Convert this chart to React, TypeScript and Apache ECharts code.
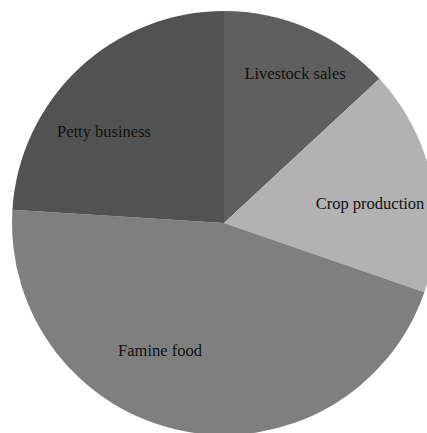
import React, { useEffect, useRef } from "react";
import * as echarts from "echarts";

const categories = ["Livestock sales", "Crop production", "Famine food", "Petty business"];
const values = [13.1, 17.2, 45.7, 24.0];
const colors = ["#5f5f5f", "#b2b2b2", "#7f7f7f", "#525252"];
// label anchor offsets from the pie centre (px)
const labelOffsets: [number, number][] = [
  [71, -150],
  [146, -20],
  [-64, 127],
  [-120, -92],
];

const CX = 224;
const CY = 223;
const R = 212;

export default function App() {
  const ref = useRef<HTMLDivElement>(null);
  useEffect(() => {
    if (!ref.current) return;
    const chart = echarts.init(ref.current, undefined, { renderer: "svg" });
    chart.setOption({
      animation: false,
      backgroundColor: "#ffffff",
      series: [
        {
          type: "pie",
          center: [CX, CY],
          radius: [0, R],
          startAngle: 90,
          clockwise: true,
          avoidLabelOverlap: false,
          data: categories.map((name, i) => ({
            name,
            value: values[i],
            itemStyle: { color: colors[i] },
          })),
          itemStyle: { borderWidth: 0 },
          label: {
            show: true,
            position: "inside",
            formatter: "{b}",
            color: "#111111",
            fontFamily: "Liberation Serif, Times New Roman, serif",
            fontSize: 16.5,
          },
          labelLine: { show: false },
          labelLayout: (params: any) => {
            const off = labelOffsets[params.dataIndex];
            return {
              x: CX + off[0],
              y: CY + off[1],
              align: "center",
              verticalAlign: "middle",
            };
          },
        },
      ],
    });
    return () => chart.dispose();
  }, []);
  return (
    <div
      ref={ref}
      style={{ position: "fixed", left: 0, top: 0, width: 427, height: 433 }}
    />
  );
}
